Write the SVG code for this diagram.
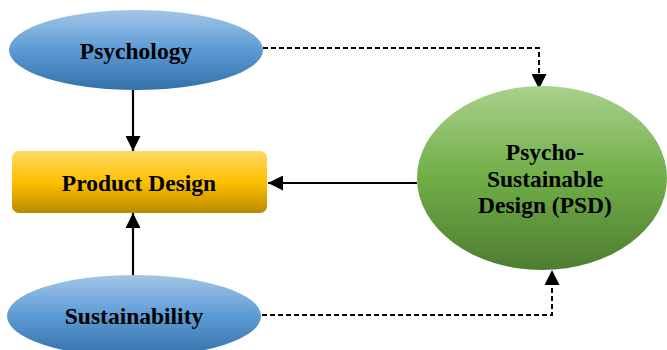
<svg xmlns="http://www.w3.org/2000/svg" width="667" height="350" viewBox="0 0 667 350">
  <defs>
    <linearGradient id="blueFill" x1="0" y1="0" x2="0" y2="1">
      <stop offset="0" stop-color="#a2c6e8"/>
      <stop offset="0.5" stop-color="#5d9bd5"/>
      <stop offset="1" stop-color="#3470aa"/>
    </linearGradient>
    <linearGradient id="goldFill" x1="0" y1="0" x2="0" y2="1">
      <stop offset="0" stop-color="#ffd966"/>
      <stop offset="0.5" stop-color="#ffc000"/>
      <stop offset="1" stop-color="#b98a00"/>
    </linearGradient>
    <linearGradient id="greenFill" x1="0" y1="0" x2="0" y2="1">
      <stop offset="0" stop-color="#a9d18e"/>
      <stop offset="0.5" stop-color="#70ad47"/>
      <stop offset="1" stop-color="#4e7d31"/>
    </linearGradient>
    <marker id="head" viewBox="0 0 10 10" refX="10" refY="5" markerWidth="15" markerHeight="15" markerUnits="userSpaceOnUse" orient="auto">
      <path d="M0,0 L10,5 L0,10 Z" fill="#000"/>
    </marker>
  </defs>
  <style>
    .label { font-family: "Liberation Serif", "Times New Roman", serif; font-weight: bold; font-size: 23.5px; fill: #000; text-anchor: middle; }
    .solid { fill: none; stroke: #000; stroke-width: 2.2; }
    .dashed { fill: none; stroke: #000; stroke-width: 2; stroke-dasharray: 5 3; }
  </style>

  <g id="connectors">
    <path class="solid" d="M133,90 L133,151" marker-end="url(#head)"/>
    <path class="solid" d="M133,275 L133,213" marker-end="url(#head)"/>
    <path class="solid" d="M417,183 L268,183" marker-end="url(#head)"/>
    <path class="dashed" d="M263,48 L539,48 L539,89" marker-end="url(#head)"/>
    <path class="dashed" d="M262,315 L552,315 L552,270" marker-end="url(#head)"/>
  </g>

  <g id="psychology">
    <ellipse cx="136" cy="50" rx="127" ry="40" fill="url(#blueFill)"/>
    <text class="label" x="136" y="59">Psychology</text>
  </g>

  <g id="product-design">
    <rect x="12" y="151" width="255" height="62" rx="7" fill="url(#goldFill)"/>
    <text class="label" x="139" y="191">Product Design</text>
  </g>

  <g id="sustainability">
    <ellipse cx="134" cy="316" rx="127" ry="41" fill="url(#blueFill)"/>
    <text class="label" x="134" y="324">Sustainability</text>
  </g>

  <g id="psd">
    <ellipse cx="542" cy="178" rx="125" ry="92" fill="url(#greenFill)"/>
    <text class="label" x="545" y="160">Psycho-</text>
    <text class="label" x="545" y="187">Sustainable</text>
    <text class="label" x="545" y="213">Design (PSD)</text>
  </g>
</svg>
